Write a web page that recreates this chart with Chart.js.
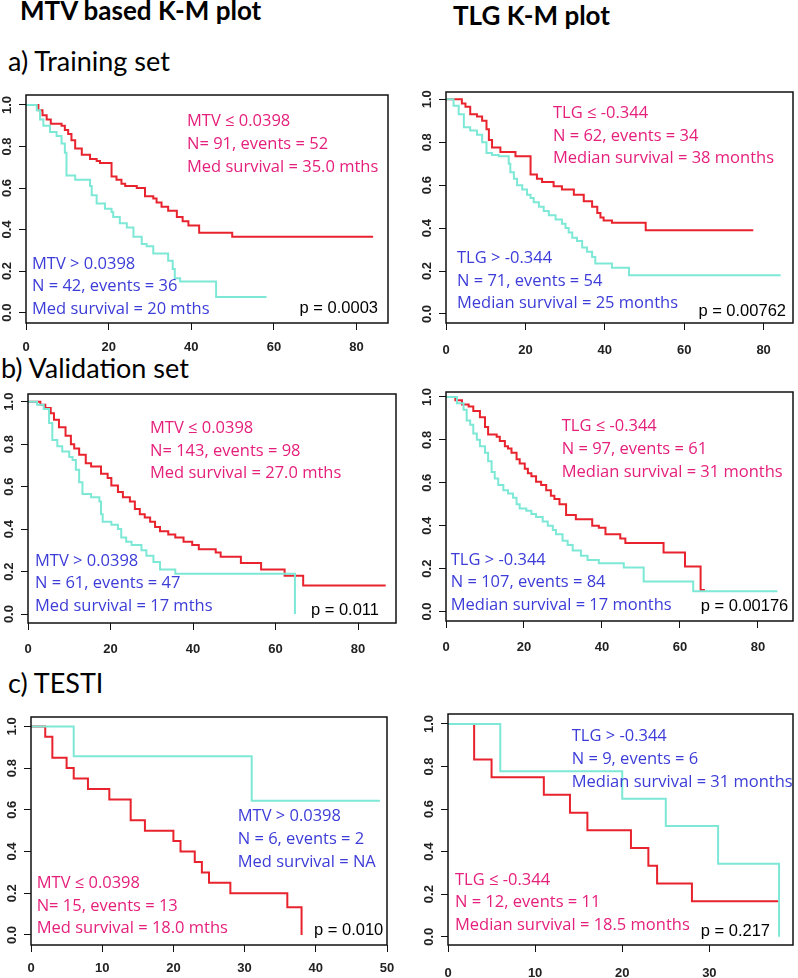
<!DOCTYPE html>
<html>
<head>
<meta charset="utf-8">
<title>MTV / TLG K-M plots</title>
<script src="https://cdn.jsdelivr.net/npm/chart.js@4.4.1/dist/chart.umd.min.js"></script>
<style>
  html, body { margin: 0; padding: 0; background: #fff; }
  body { position: relative; width: 798px; height: 978px; overflow: hidden; }
  .head { position: absolute; white-space: nowrap; font-family: Lato, sans-serif; color: #000; line-height: 1; }
  .head.bold { font-weight: 700; font-size: 26px; }
  .head.set { font-size: 27px; }
  .panel { position: absolute; }
</style>
</head>
<body>
<div class="head bold" style="left:20px; top:-3px">MTV based K-M plot</div>
<div class="head bold" style="left:453px; top:2px">TLG K-M plot</div>
<div class="head set" style="left:8px; top:47px">a) Training set</div>
<div class="head set" style="left:1px; top:354px">b) Validation set</div>
<div class="head set" style="left:8px; top:669px">c) TESTI</div>

<script>
// ---- data (months, survival probability) ----
const xTicks80 = [0, 20, 40, 60, 80];
const xTicks50 = [0, 10, 20, 30, 40, 50];
const xTicks30 = [0, 10, 20, 30];
const yTicks = [0, 0.2, 0.4, 0.6, 0.8, 1.0];

// a) training, MTV
const trainMtvLowTime = [0, 3.0, 4.0, 5.0, 6.0, 8.6, 9.4, 10.2, 11.0, 11.9, 13.5, 15.5, 17.1, 17.9, 20.7, 21.9, 23.1, 24.0, 26.8, 28.8, 30.8, 31.6, 32.8, 34.4, 36.5, 37.9, 39.3, 41.9, 49.9, 84.0];
const trainMtvLowSurv = [1, 0.975, 0.95, 0.93, 0.91, 0.90, 0.88, 0.86, 0.83, 0.79, 0.76, 0.74, 0.73, 0.72, 0.655, 0.64, 0.62, 0.61, 0.60, 0.56, 0.55, 0.53, 0.51, 0.49, 0.46, 0.44, 0.42, 0.385, 0.365, 0.365];
const trainMtvHighTime = [0, 2.6, 3.4, 4.2, 5.8, 7.4, 8.6, 9.4, 9.8, 11.9, 15.5, 15.9, 17.1, 19.1, 20.7, 21.1, 22.7, 24.4, 26.0, 28.0, 29.2, 30.8, 34.4, 35.5, 36.0, 37.3, 46.0, 58.2];
const trainMtvHighSurv = [1, 0.975, 0.93, 0.90, 0.87, 0.85, 0.815, 0.77, 0.66, 0.64, 0.61, 0.565, 0.525, 0.50, 0.485, 0.46, 0.43, 0.41, 0.365, 0.33, 0.32, 0.285, 0.25, 0.21, 0.165, 0.15, 0.075, 0.075];

// a) training, TLG
const trainTlgLowTime = [0, 4.0, 4.9, 6.1, 7.8, 9.1, 10.2, 10.8, 11.6, 13.7, 17.5, 21.3, 22.9, 24.2, 27.1, 29.2, 32.2, 34.7, 36.8, 38.1, 38.9, 39.7, 41.8, 50.3, 77.4];
const trainTlgLowSurv = [1, 0.98, 0.965, 0.93, 0.92, 0.90, 0.86, 0.81, 0.775, 0.755, 0.735, 0.65, 0.63, 0.615, 0.595, 0.58, 0.555, 0.525, 0.50, 0.47, 0.45, 0.435, 0.425, 0.39, 0.39];
const trainTlgHighTime = [0, 1.9, 3.2, 4.5, 6.1, 7.8, 9.1, 10.2, 11.6, 13.3, 15.8, 16.2, 17.1, 17.9, 19.2, 20.4, 21.3, 22.1, 23.4, 24.6, 25.9, 27.6, 29.2, 30.1, 30.9, 31.8, 33.0, 34.3, 35.5, 36.8, 37.6, 41.8, 46.1, 84.3];
const trainTlgHighSurv = [1, 0.97, 0.93, 0.87, 0.855, 0.835, 0.80, 0.75, 0.74, 0.735, 0.70, 0.66, 0.63, 0.60, 0.58, 0.555, 0.54, 0.52, 0.50, 0.48, 0.46, 0.44, 0.42, 0.40, 0.38, 0.355, 0.34, 0.31, 0.29, 0.265, 0.235, 0.215, 0.18, 0.18];

// b) validation, MTV
const validMtvLowTime = [0, 3.0, 4.2, 5.5, 6.3, 7.5, 9.1, 10.4, 11.2, 12.4, 14.0, 15.3, 17.7, 19.3, 20.2, 21.8, 23.0, 24.7, 25.9, 27.1, 28.3, 29.6, 30.8, 32.0, 34.0, 35.7, 37.7, 39.8, 41.4, 45.5, 46.7, 51.6, 56.5, 62.2, 66.7, 86.7];
const validMtvLowSurv = [1, 0.985, 0.97, 0.945, 0.915, 0.88, 0.84, 0.80, 0.78, 0.75, 0.71, 0.695, 0.66, 0.64, 0.605, 0.575, 0.55, 0.53, 0.495, 0.47, 0.455, 0.435, 0.41, 0.39, 0.375, 0.36, 0.34, 0.325, 0.305, 0.29, 0.27, 0.24, 0.21, 0.18, 0.135, 0.135];
const validMtvHighTime = [0, 2.2, 3.8, 5.1, 5.9, 7.1, 8.3, 10.0, 10.8, 11.6, 12.4, 13.2, 15.3, 17.3, 17.7, 18.1, 20.2, 21.8, 22.6, 23.8, 25.1, 27.5, 28.7, 30.4, 32.0, 35.7, 64.7];
const validMtvHighSurv = [1, 0.985, 0.965, 0.90, 0.82, 0.79, 0.765, 0.74, 0.725, 0.68, 0.62, 0.565, 0.55, 0.53, 0.47, 0.435, 0.42, 0.40, 0.36, 0.34, 0.325, 0.30, 0.275, 0.245, 0.21, 0.19, 0];

// b) validation, TLG
const validTlgLowTime = [0, 2.4, 4.1, 5.8, 7.0, 8.7, 10.0, 10.8, 13.0, 13.8, 15.1, 15.9, 16.8, 18.1, 18.9, 20.2, 21.0, 21.9, 23.1, 24.4, 25.7, 26.9, 27.8, 29.1, 30.8, 33.3, 37.5, 39.2, 40.9, 44.7, 46.0, 55.8, 61.3, 65.3, 66.4];
const validTlgLowSurv = [1, 0.985, 0.965, 0.955, 0.935, 0.905, 0.86, 0.825, 0.815, 0.795, 0.77, 0.76, 0.74, 0.71, 0.69, 0.665, 0.645, 0.63, 0.605, 0.59, 0.565, 0.54, 0.525, 0.50, 0.45, 0.43, 0.40, 0.39, 0.36, 0.34, 0.32, 0.275, 0.21, 0.10, 0.10];
const validTlgHighTime = [0, 2.8, 4.5, 5.3, 6.2, 7.0, 7.9, 8.7, 10.0, 10.8, 11.7, 12.5, 13.4, 14.7, 15.9, 17.2, 18.1, 18.9, 20.6, 21.9, 23.1, 24.8, 26.1, 27.4, 28.2, 29.9, 31.2, 32.5, 34.6, 36.3, 39.2, 45.6, 50.7, 63.4, 85.0];
const validTlgHighSurv = [1, 0.97, 0.94, 0.89, 0.87, 0.83, 0.80, 0.77, 0.74, 0.70, 0.65, 0.62, 0.59, 0.565, 0.55, 0.53, 0.50, 0.48, 0.47, 0.455, 0.44, 0.42, 0.40, 0.38, 0.36, 0.33, 0.31, 0.285, 0.26, 0.24, 0.225, 0.205, 0.14, 0.095, 0.095];

// c) TESTI, MTV
const testMtvLowTime = [0, 2, 3, 5, 6, 8, 11, 14, 16, 20, 21, 23, 24, 25, 28, 36, 38];
const testMtvLowSurv = [1, 0.95, 0.85, 0.80, 0.75, 0.70, 0.65, 0.55, 0.50, 0.45, 0.40, 0.35, 0.30, 0.25, 0.20, 0.133, 0];
const testMtvHighTime = [0, 6, 31, 49];
const testMtvHighSurv = [1, 0.857, 0.643, 0.643];

// c) TESTI, TLG
const testTlgLowTime = [0, 3, 5, 11, 14, 16, 21, 23, 24, 28, 38];
const testTlgLowSurv = [1, 0.833, 0.75, 0.667, 0.583, 0.5, 0.417, 0.333, 0.25, 0.167, 0.167];
const testTlgHighTime = [0, 6, 20, 25, 31, 38];
const testTlgHighSurv = [1, 0.778, 0.648, 0.52, 0.343, 0];

// ---- styling ----
const RED = "#e8232d";
const CYAN = "#7ee8d6";
const RED_TEXT = "#e5207c";
const BLUE_TEXT = "#3c3cd8";
const NOTE_FONT = '16.5px "Open Sans"';
const P_FONT = '16.5px "Liberation Sans"';
const TICK_FONT = 'bold 13px "Liberation Sans"';
const LINE_GAP = 22.7;
const PAD_L = 34, PAD_T = 6, PAD_R = 8, PAD_B = 40, TICK_LEN = 7;

const panels = [
    {
        box: [26, 95, 388, 323], xMax: 87.6, yMin: -0.05, yMax: 1.048, xTicks: xTicks80, xGap: 24,
        low: [trainMtvLowTime, trainMtvLowSurv], high: [trainMtvHighTime, trainMtvHighSurv],
        notes: [
            { color: RED_TEXT, x: 161, y: 26.7, lines: ["MTV ≤ 0.0398", "N= 91, events = 52", "Med survival = 35.0 mths"] },
            { color: BLUE_TEXT, x: 6, y: 169, lines: ["MTV > 0.0398", "N = 42, events = 36", "Med survival = 20 mths"] }
        ],
        p: "p = 0.0003", pRight: 10, pY: 213
    },
    {
        box: [446, 92, 793, 323], xMax: 87.4, yMin: -0.042, yMax: 1.034, xTicks: xTicks80, xGap: 27,
        low: [trainTlgLowTime, trainTlgLowSurv], high: [trainTlgHighTime, trainTlgHighSurv],
        notes: [
            { color: RED_TEXT, x: 107, y: 21.3, lines: ["TLG ≤ -0.344", "N = 62, events = 34", "Median survival = 38 months"] },
            { color: BLUE_TEXT, x: 11, y: 166.3, lines: ["TLG > -0.344", "N = 71, events = 54", "Median survival = 25 months"] }
        ],
        p: "p = 0.00762", pRight: 7, pY: 219
    },
    {
        box: [28, 394, 396, 623], xMax: 89.2, yMin: -0.042, yMax: 1.036, xTicks: xTicks80, xGap: 26,
        low: [validMtvLowTime, validMtvLowSurv], high: [validMtvHighTime, validMtvHighSurv],
        notes: [
            { color: RED_TEXT, x: 122, y: 34.3, lines: ["MTV ≤ 0.0398", "N= 143, events = 98", "Med survival = 27.0 mths"] },
            { color: BLUE_TEXT, x: 7, y: 167, lines: ["MTV > 0.0398", "N = 61, events = 47", "Med survival = 17 mths"] }
        ],
        p: "p = 0.011", pRight: 17, pY: 216.7
    },
    {
        box: [446, 392, 793, 621], xMax: 89.0, yMin: -0.044, yMax: 1.023, xTicks: xTicks80, xGap: 26,
        low: [validTlgLowTime, validTlgLowSurv], high: [validTlgHighTime, validTlgHighSurv],
        notes: [
            { color: RED_TEXT, x: 115.7, y: 34.7, lines: ["TLG ≤ -0.344", "N = 97, events = 61", "Median survival = 31 months"] },
            { color: BLUE_TEXT, x: 4.7, y: 168, lines: ["TLG > -0.344", "N = 107, events = 84", "Median survival = 17 months"] }
        ],
        p: "p = 0.00176", pRight: 4.7, pY: 214
    },
    {
        box: [31, 717, 387, 945], xMax: 50, yMin: -0.048, yMax: 1.045, xTicks: xTicks50, xGap: 23,
        low: [testMtvLowTime, testMtvLowSurv], high: [testMtvHighTime, testMtvHighSurv],
        notes: [
            { color: BLUE_TEXT, x: 206.7, y: 99.7, lines: ["MTV > 0.0398", "N = 6, events = 2", "Med survival = NA"] },
            { color: RED_TEXT, x: 5.7, y: 166.3, lines: ["MTV ≤ 0.0398", "N= 15, events = 13", "Med survival = 18.0 mths"] }
        ],
        p: "p = 0.010", pRight: 3.7, pY: 213
    },
    {
        box: [448, 714, 793, 945], xMax: 39.6, yMin: -0.039, yMax: 1.047, xTicks: xTicks30, xGap: 28,
        low: [testTlgLowTime, testTlgLowSurv], high: [testTlgHighTime, testTlgHighSurv],
        notes: [
            { color: BLUE_TEXT, x: 123.7, y: 22.7, lines: ["TLG > -0.344", "N = 9, events = 6", "Median survival = 31 months"] },
            { color: RED_TEXT, x: 7, y: 166, lines: ["TLG ≤ -0.344", "N = 12, events = 11", "Median survival = 18.5 months"] }
        ],
        p: "p = 0.217", pRight: 23, pY: 217.7
    }
];

// box, tick labels and the text inside each plot
const kmDecor = {
    id: "kmDecor",
    afterDraw(chart, args, opts) {
        const ctx = chart.ctx;
        const a = chart.chartArea;
        const xs = chart.scales.x;
        const ys = chart.scales.y;
        ctx.save();

        ctx.strokeStyle = "#111";
        ctx.lineWidth = 1.5;
        ctx.strokeRect(a.left, a.top, a.right - a.left, a.bottom - a.top);

        ctx.fillStyle = "#222";
        ctx.font = TICK_FONT;
        ctx.textAlign = "center";
        ctx.textBaseline = "middle";
        opts.xTicks.forEach(v => ctx.fillText(String(v), xs.getPixelForValue(v), a.bottom + opts.xGap));
        yTicks.forEach(v => {
            ctx.save();
            ctx.translate(a.left - 19, ys.getPixelForValue(v));
            ctx.rotate(-Math.PI / 2);
            ctx.fillText(v.toFixed(1), 0, 0);
            ctx.restore();
        });

        ctx.font = NOTE_FONT;
        ctx.textAlign = "left";
        opts.notes.forEach(n => {
            ctx.fillStyle = n.color;
            n.lines.forEach((t, i) => ctx.fillText(t, a.left + n.x, a.top + n.y + i * LINE_GAP));
        });

        ctx.font = P_FONT;
        ctx.fillStyle = "#000";
        ctx.textAlign = "right";
        ctx.fillText(opts.p, a.right - opts.pRight, a.top + opts.pY);
        ctx.restore();
    }
};

const toPoints = (times, surv) => times.map((t, i) => ({ x: t, y: surv[i] }));

const curve = (times, surv, color) => ({
    data: toPoints(times, surv),
    borderColor: color,
    borderWidth: 2,
    stepped: "before",
    pointRadius: 0,
    fill: false,
    tension: 0
});

const axis = (min, max, ticks) => ({
    type: "linear",
    min: min,
    max: max,
    grid: { display: true, drawOnChartArea: false, drawTicks: true, tickLength: TICK_LEN, color: "#111", lineWidth: 1 },
    border: { display: false },
    ticks: { display: false },
    afterBuildTicks: (scale) => { scale.ticks = ticks.map(value => ({ value })); }
});

panels.forEach(p => {
    const [l, t, r, b] = p.box;
    const w = (r - l) + PAD_L + PAD_R;
    const h = (b - t) + PAD_T + PAD_B;

    const holder = document.createElement("div");
    holder.className = "panel";
    holder.style.left = (l - PAD_L) + "px";
    holder.style.top = (t - PAD_T) + "px";
    holder.style.width = w + "px";
    holder.style.height = h + "px";
    const canvas = document.createElement("canvas");
    canvas.width = w;
    canvas.height = h;
    canvas.style.width = w + "px";
    canvas.style.height = h + "px";
    holder.appendChild(canvas);
    document.body.appendChild(holder);

    new Chart(canvas, {
        type: "line",
        data: {
            // cyan first so it is drawn on top, as in the original
            datasets: [curve(p.high[0], p.high[1], CYAN), curve(p.low[0], p.low[1], RED)]
        },
        options: {
            responsive: false,
            animation: false,
            events: [],
            layout: { padding: { left: PAD_L - TICK_LEN, top: PAD_T, right: PAD_R, bottom: PAD_B - TICK_LEN } },
            plugins: {
                legend: { display: false },
                tooltip: { enabled: false },
                kmDecor: { xTicks: p.xTicks, xGap: p.xGap, notes: p.notes, p: p.p, pRight: p.pRight, pY: p.pY }
            },
            scales: {
                x: axis(0, p.xMax, p.xTicks),
                y: axis(p.yMin, p.yMax, yTicks)
            }
        },
        plugins: [kmDecor]
    });
});
</script>
</body>
</html>
